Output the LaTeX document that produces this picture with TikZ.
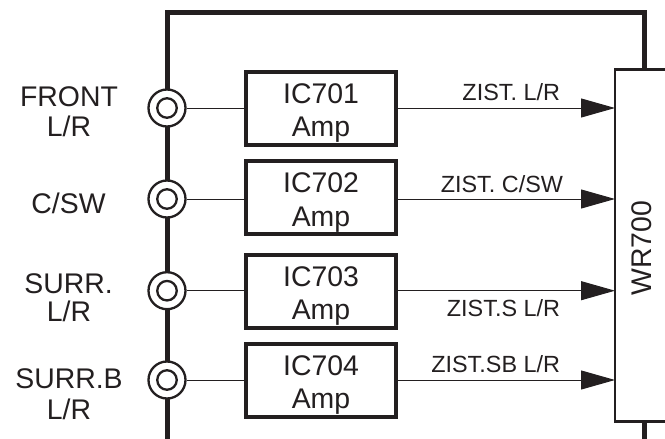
\documentclass[tikz,border=0pt]{standalone}
\usepackage{fontspec}
\setmainfont{Liberation Sans}
\usetikzlibrary{arrows.meta}
\definecolor{ink}{HTML}{231F20}
\tikzset{
  bus/.style={draw=ink,line width=5pt,line cap=butt},
  jackouter/.style={circle,draw=ink,line width=2.3pt,fill=white,minimum size=37pt,inner sep=0pt,outer sep=1.2pt},
  jackinner/.style={circle,draw=ink,line width=2.3pt,fill=white,minimum size=19.5pt,inner sep=0pt},
  ampbox/.style={rectangle,draw=ink,line width=4pt,fill=white,minimum width=150pt,inner sep=0pt,outer sep=0pt},
  txt/.style={text=ink,inner sep=0pt,outer sep=0pt,anchor=base,font=\fontsize{28.4}{30}\selectfont},
  sig/.style={text=ink,inner sep=0pt,outer sep=0pt,anchor=base east,font=\fontsize{23.4}{25}\selectfont},
  wire/.style={draw=ink,line width=1pt},
  feed/.style={wire,-{Triangle[length=34pt,width=19pt,sep=0pt]}},
  wrbox/.style={rectangle,draw=ink,line width=2.5pt,fill=white,minimum width=70pt,minimum height=352pt,inner sep=0pt,outer sep=0pt,anchor=north west}
}
\begin{document}
\begin{tikzpicture}[x=1pt,y=-1pt]
\useasboundingbox (0,0) rectangle (665,439);
\clip (0,0) rectangle (665,439);
\fill[white] (0,0) rectangle (665,439);
% free ends and corners of the bus
\coordinate (busbl) at (167,439);
\coordinate (busbr) at (644,439);
\coordinate (bustl) at (167,12.7);
\coordinate (bustr) at (644,12.7);
% WR700
\node[wrbox] (wr) at (615,69.5) {};
\node[text=ink,inner sep=0pt,rotate=90,font=\fontsize{28.4}{30}\selectfont] (wrlabel) at (641.5,248) {WR700};
% jacks positions
\coordinate (j1) at (167,108);
\coordinate (j2) at (167,199);
\coordinate (j3) at (167,290.7);
\coordinate (j4) at (167,380);
% bus
\draw[bus,line join=miter] (j1) -- (bustl) -- (bustr) -- (bustr |- wr.north);
\draw[bus] (j1) -- (j2);
\draw[bus] (j2) -- (j3);
\draw[bus] (j3) -- (j4);
\draw[bus] (j4) -- (busbl);
\draw[bus] (bustr |- wr.south) -- (busbr);
% jacks
\foreach \n in {1,2,3,4}{
  \node[jackouter] (jack\n) at (j\n) {};
  \node[jackinner] (jackin\n) at (j\n) {};
}
% amps
\node[ampbox,minimum height=72.4pt] (ic1) at (321,108.5) {};
\node[ampbox,minimum height=72.7pt] (ic2) at (321,197.3) {};
\node[ampbox,minimum height=72.7pt] (ic3) at (321,291.6) {};
\node[ampbox,minimum height=73pt] (ic4) at (321,380.8) {};
\node[txt] (t1a) at (321,103) {IC701};
\node[txt] (t1b) at (321,136) {Amp};
\node[txt] (t2a) at (321,192) {IC702};
\node[txt] (t2b) at (321,226) {Amp};
\node[txt] (t3a) at (321,286.7) {IC703};
\node[txt] (t3b) at (321,319) {Amp};
\node[txt] (t4a) at (321,375) {IC704};
\node[txt] (t4b) at (321,408) {Amp};
% wires
\foreach \n in {1,2,3,4}{
  \draw[wire] (jack\n) -- (jack\n -| ic\n.west);
  \draw[feed] (j\n -| ic\n.east) -- (j\n -| wr.west);
}
% left labels
\node[txt] (l1a) at (69,106.7) {FRONT};
\node[txt] (l1b) at (69,136) {L/R};
\node[txt] (l2a) at (68.5,213) {C/SW};
\node[txt] (l3a) at (68.5,293) {SURR.};
\node[txt] (l3b) at (69,321.7) {L/R};
\node[txt] (l4a) at (69,388) {SURR.B};
\node[txt] (l4b) at (69,419) {L/R};
% signal labels
\node[sig] (s1) at (560,100.7) {ZIST. L/R};
\node[sig] (s2) at (563,192) {ZIST. C/SW};
\node[sig] (s3) at (560,316.7) {ZIST.S L/R};
\node[sig] (s4) at (560,372.7) {ZIST.SB L/R};
\end{tikzpicture}
\end{document}
